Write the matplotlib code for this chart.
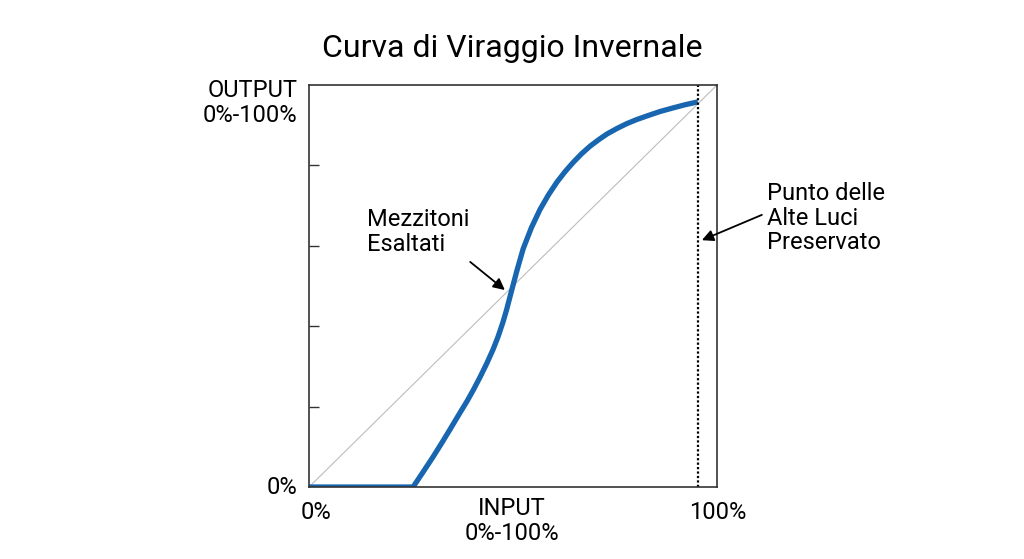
import numpy as np
import matplotlib.pyplot as plt

plt.rcParams["font.family"] = ["Roboto", "DejaVu Sans"]

# Curve points (input, output as fractions 0..1)
curve_in = [0.0, 0.255, 0.28, 0.304, 0.325, 0.346, 0.366, 0.387, 0.403, 0.419,
            0.435, 0.451, 0.463, 0.475, 0.484, 0.493, 0.510, 0.525, 0.545,
            0.566, 0.587, 0.608, 0.628, 0.647, 0.668, 0.689, 0.710, 0.730,
            0.755, 0.779, 0.803, 0.828, 0.860, 0.892, 0.922, 0.953]
curve_out = [0.0, 0.0, 0.038, 0.075, 0.109, 0.144, 0.178, 0.213, 0.242, 0.273,
             0.306, 0.342, 0.373, 0.409, 0.440, 0.475, 0.540, 0.593, 0.645,
             0.690, 0.727, 0.759, 0.785, 0.807, 0.829, 0.848, 0.864, 0.878,
             0.892, 0.904, 0.914, 0.923, 0.934, 0.943, 0.951, 0.958]
white_point = 0.953
ytick_vals = [0.2, 0.4, 0.6, 0.8]

fig = plt.figure(figsize=(10.24, 5.59), dpi=100)
ax = fig.add_axes([0.3018, 0.1288, 0.3984, 0.7191])

ax.plot([0, 1], [0, 1], color="#bdbdbd", linewidth=0.8)
ax.plot(curve_in, curve_out, color="#1866b0", linewidth=3.8,
        solid_capstyle="butt", solid_joinstyle="round")
ax.axvline(white_point, color="black", linestyle=(0, (1, 1)), linewidth=1.6)

ax.set_xlim(0, 1)
ax.set_ylim(0, 1)
ax.set_xticks([])
ax.set_yticks(ytick_vals)
ax.tick_params(axis="y", direction="in", length=7, width=1, color="#333333",
               labelleft=False)
for s in ax.spines.values():
    s.set_color("#333333")
    s.set_linewidth(1.2)

fs = 17
ls = 1.1
ax.text(-0.029, 1.015, "OUTPUT\n0%-100%", transform=ax.transAxes, ha="right",
        va="top", fontsize=fs, linespacing=ls)
ax.text(-0.029, 0.0, "0%", transform=ax.transAxes, ha="right", va="center",
        fontsize=fs)
ax.text(0.017, -0.035, "0%", transform=ax.transAxes, ha="center", va="top",
        fontsize=fs)
ax.text(0.498, -0.025, "INPUT\n0%-100%", transform=ax.transAxes, ha="center",
        va="top", fontsize=fs, linespacing=ls)
ax.text(1.002, -0.035, "100%", transform=ax.transAxes, ha="center", va="top",
        fontsize=fs)

ax.text(0.142, 0.575, "Mezzitoni\nEsaltati", fontsize=fs, ha="left",
        va="bottom", linespacing=ls)
ax.annotate("", xy=(0.48, 0.49), xytext=(0.395, 0.56),
            arrowprops=dict(arrowstyle="-|>", color="black", lw=1.3,
                            shrinkA=0, shrinkB=0, mutation_scale=17),
            annotation_clip=False)
ax.text(1.123, 0.669, "Punto delle\nAlte Luci\nPreservato", fontsize=fs,
        ha="left", va="center", linespacing=ls, clip_on=False)
ax.annotate("", xy=(0.963, 0.614), xytext=(1.11, 0.677),
            arrowprops=dict(arrowstyle="-|>", color="black", lw=1.3,
                            shrinkA=0, shrinkB=0, mutation_scale=17),
            annotation_clip=False)

fig.text(0.5, 0.914, "Curva di Viraggio Invernale", ha="center", va="center",
         fontsize=23)

fig.savefig("out.png", dpi=100)
